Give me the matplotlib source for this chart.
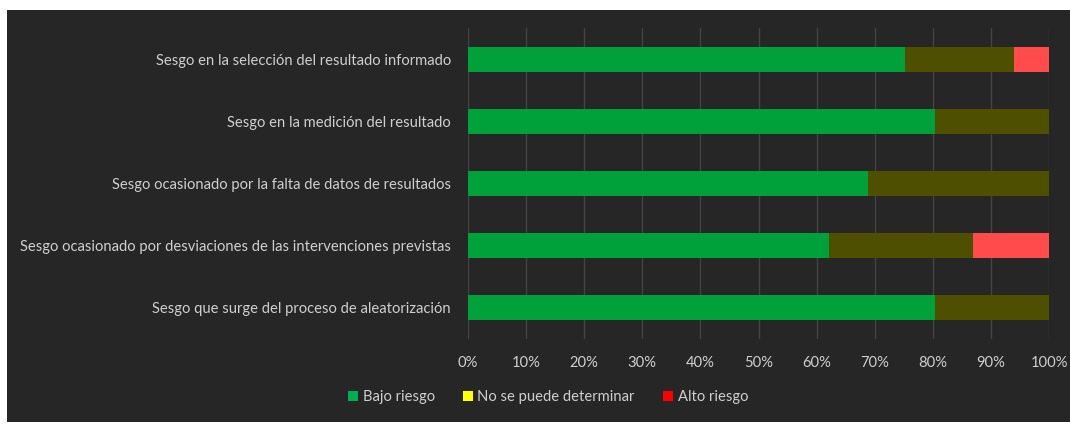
import matplotlib.pyplot as plt
from matplotlib.patches import Patch, Rectangle
from matplotlib.ticker import PercentFormatter, MultipleLocator

plt.rcParams['font.family'] = ['Lato', 'DejaVu Sans']

categories = [
    "Sesgo en la selección del resultado informado",
    "Sesgo en la medición del resultado",
    "Sesgo ocasionado por la falta de datos de resultados",
    "Sesgo ocasionado por desviaciones de las intervenciones previstas",
    "Sesgo que surge del proceso de aleatorización",
]
bajo = [75.2, 80.3, 68.8, 62.2, 80.3]
no_det = [18.7, 19.7, 31.2, 24.6, 19.7]
alto = [6.1, 0.0, 0.0, 13.2, 0.0]

series_names = ["Bajo riesgo", "No se puede determinar", "Alto riesgo"]
bar_colors = ["#00A03A", "#4F4F00", "#FF4B4B"]
legend_colors = ["#00B050", "#FFFF00", "#FF0000"]

bg = "#262626"
txt = "#CFCFCF"

fig = plt.figure(figsize=(10.7, 4.24), dpi=100, facecolor="white")
# dark chart area (leaves thin white margin like the screenshot)
fig.patches.append(Rectangle((7 / 1070, 2 / 424), 1063 / 1070, 412 / 424,
                             transform=fig.transFigure, facecolor=bg,
                             edgecolor="none", zorder=-1))

ax = fig.add_axes([0.4371, 0.2005, 0.5436, 0.7335])
ax.set_facecolor(bg)

y = list(range(len(categories)))
left = [0.0] * len(categories)
for vals, col in zip([bajo, no_det, alto], bar_colors):
    ax.barh(y, vals, left=left, height=0.4, color=col, zorder=3)
    left = [l + v for l, v in zip(left, vals)]

ax.set_ylim(len(categories) - 0.5, -0.5)
ax.set_xlim(0, 100)
ax.xaxis.set_major_locator(MultipleLocator(10))
ax.xaxis.set_major_formatter(PercentFormatter(decimals=0))
ax.set_yticks(y)
ax.set_yticklabels(categories)
ax.grid(axis="x", color="#444444", linewidth=1, zorder=0)
for s in ax.spines.values():
    s.set_visible(False)
ax.tick_params(axis="both", length=0, colors=txt, labelsize=10.6)
ax.tick_params(axis="y", pad=12)
ax.tick_params(axis="x", pad=12)

handles = [Patch(facecolor=c, edgecolor="none") for c in legend_colors]
leg = fig.legend(handles, series_names, loc="center", bbox_to_anchor=(548 / 1070, 1 - 397 / 424),
                 ncol=3, frameon=False, fontsize=10.6, handlelength=0.7, handleheight=0.7,
                 handletextpad=0.3, columnspacing=1.9)
for t in leg.get_texts():
    t.set_color(txt)

fig.savefig("out.png", dpi=100, facecolor="white")
